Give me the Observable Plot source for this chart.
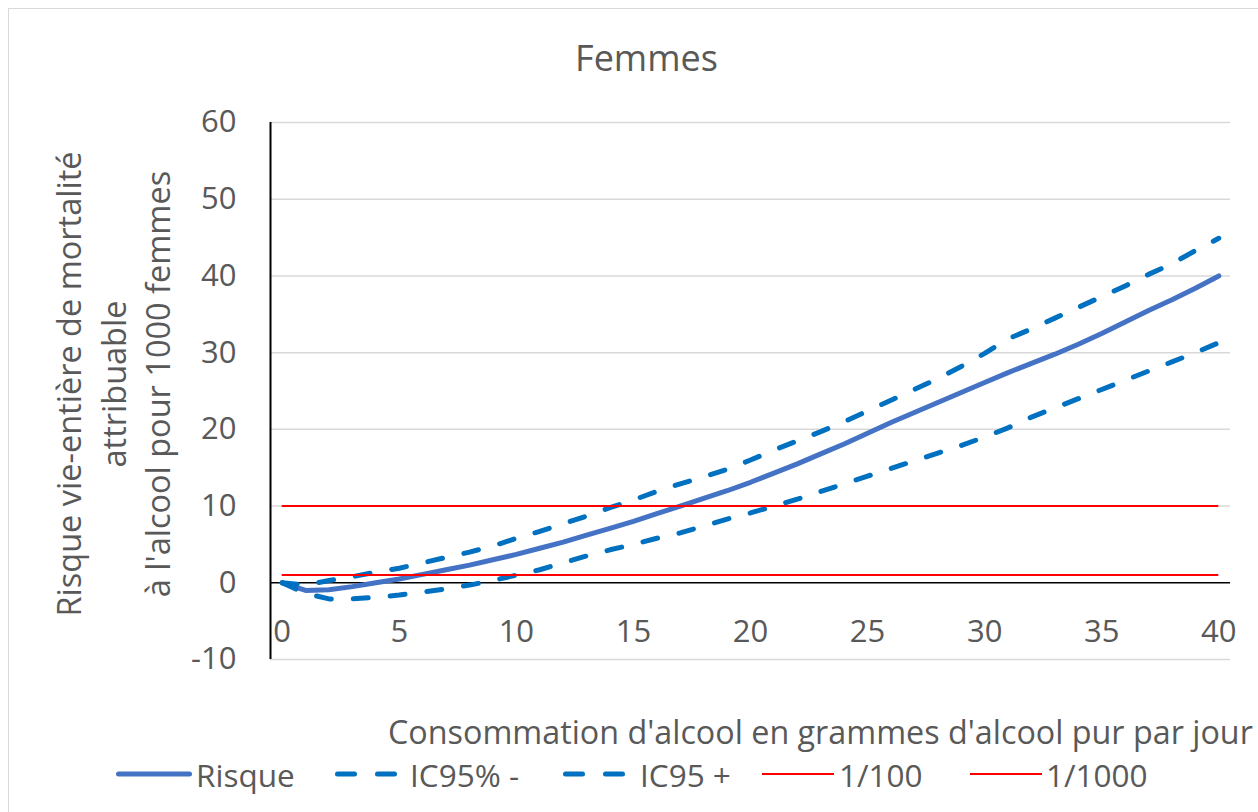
<!DOCTYPE html>
<html><head><meta charset="utf-8">
<script src="https://cdn.jsdelivr.net/npm/d3@7"></script>
<script src="https://cdn.jsdelivr.net/npm/@observablehq/plot@0.6"></script>
<style>
body{margin:0;background:#fff;font-family:"Open Sans",sans-serif;color:#595959;}
#chart{position:relative;width:1258px;height:812px;overflow:hidden;background:#fff;}
#frame{position:absolute;left:8px;top:8px;width:1300px;height:900px;border:1px solid #D9D9D9;}
#title{position:absolute;left:0;width:1293px;top:36px;text-align:center;font-size:36px;line-height:44px;}
#plot{position:absolute;left:0;top:100px;}
#xtitle{position:absolute;left:388px;top:714px;font-size:32.3px;line-height:34px;white-space:nowrap;}
.legsw{position:absolute;top:768px;}
.legtx{position:absolute;top:758px;font-size:31.5px;line-height:34px;white-space:nowrap;}
</style>
</head><body>
<div id="chart">
<div id="frame"></div>
<div id="title">Femmes</div>
<div id="plot"></div>
<div id="xtitle">Consommation d'alcool en grammes d'alcool pur par jour</div>
<div id="legend"></div>
</div>
<script>
const xs = [0,1,2,3,4,5,6,7,8,9,10,11,12,13,14,15,16,17,18,19,20,21,22,23,24,25,26,27,28,29,30,31,32,33,34,35,36,37,38,39,40];
const risque = [0,-1.0,-0.9,-0.5,0, 0.5,1.1,1.7,2.3,3.0, 3.7,4.5,5.3,6.2,7.1, 8.0,9.0,10.0,11.0,12.0, 13.1,14.3,15.5,16.8,18.1, 19.5,20.9,22.2,23.5,24.8, 26.1,27.4,28.6,29.8,31.1, 32.5,34.0,35.5,36.9,38.4, 40.0];
const icMoins = [0,-1.4,-2.1,-2.1,-1.9, -1.6,-1.2,-0.8,-0.3,0.3, 1.0,1.7,2.6,3.5,4.3, 5.0,5.8,6.5,7.4,8.3, 9.1,10.0,10.9,11.9,12.9, 13.9,14.9,15.9,16.9,17.9, 19.0,20.2,21.6,22.8,24.0, 25.2,26.4,27.6,28.8,30.0, 31.3];
const icPlus = [0,-0.3,0.3,0.8,1.4, 1.9,2.6,3.3,4.0,4.8, 5.8,6.7,7.7,8.7,9.8, 10.8,11.9,12.9,13.8,14.8, 16.0,17.3,18.5,19.7,21.0, 22.4,23.8,25.2,26.6,28.2, 29.9,31.8,33.1,34.5,35.9, 37.3,38.7,40.2,41.6,43.3, 44.9];
const seuilNames = ["1/100","1/1000"];
const seuilValues = [10,1];
const seriesNames = ["Risque","IC95% -","IC95 +"];
const yTicks = [-10,0,10,20,30,40,50,60];
const xTicks = [0,5,10,15,20,25,30,35,40];
const yTitle = "Risque vie-entière de mortalité\nattribuable\nà l'alcool pour 1000 femmes";

const styles = {
  "Risque": {stroke:"#4472C4", strokeWidth:5, dash:null},
  "IC95% -": {stroke:"#0070C0", strokeWidth:5, dash:"15,22"},
  "IC95 +": {stroke:"#0070C0", strokeWidth:5, dash:"15,22"},
  "1/100": {stroke:"#FF0000", strokeWidth:2, dash:null},
  "1/1000": {stroke:"#FF0000", strokeWidth:2, dash:null}
};

const seriesData = [risque, icMoins, icPlus];
const rows = seriesNames.map((name,k)=>xs.map((x,i)=>({x, y:seriesData[k][i], name})));
const seuils = seuilValues.map((v,i)=>({y:v, name:seuilNames[i]}));

const font = "'Open Sans', sans-serif";
const plot = Plot.plot({
  width:1258, height:600,
  marginLeft:270, marginRight:28, marginTop:22, marginBottom:41,
  x:{domain:[-0.5,40.5], axis:null},
  y:{domain:[-10,60], axis:null},
  style:{fontFamily:font, color:"#595959", background:"transparent", overflow:"visible"},
  marks:[
    Plot.ruleY(yTicks.filter(d=>d!==0), {stroke:"#D9D9D9", strokeWidth:1.5}),
    Plot.ruleY([0], {stroke:"#000", strokeWidth:1.5}),
    Plot.ruleX([-0.5], {y1:-10, y2:60, stroke:"#000", strokeWidth:2}),
    Plot.text(yTicks, {y:d=>d, frameAnchor:"left", dx:-34, textAnchor:"end", fontSize:31, fill:"#595959"}),
    Plot.text(xTicks, {x:d=>d, y:()=>0, dy:49, fontSize:31, fill:"#595959"}),
    Plot.text([yTitle], {frameAnchor:"left", dx:-159, dy:-7, rotate:-90, textAnchor:"middle", lineAnchor:"middle", fontSize:32.5, lineHeight:1.36, fill:"#595959"}),
    ...rows.map(r=>{
      const s = styles[r[0].name];
      return Plot.line(r, {x:"x", y:"y", stroke:s.stroke, strokeWidth:s.strokeWidth, strokeDasharray:s.dash || undefined, strokeLinecap:"round", strokeLinejoin:"round"});
    }),
    Plot.ruleY(seuils, {y:"y", x1:0, x2:40, stroke:"#FF0000", strokeWidth:2})
  ]
});
document.getElementById("plot").appendChild(plot);

// legend (layout positions)
const legNames = [...seriesNames, ...seuilNames];
const swLeft = [116, 332, 560, 762, 970];
const swWidth = [76, 68, 68, 72, 72];
const txLeft = [196, 410, 640, 839, 1046];
const legend = document.getElementById("legend");
const ns = "http://www.w3.org/2000/svg";
legNames.forEach((name,i)=>{
  const s = styles[name];
  const svg = document.createElementNS(ns,"svg");
  svg.setAttribute("class","legsw");
  svg.style.left = swLeft[i] + "px";
  svg.setAttribute("width",swWidth[i]); svg.setAttribute("height",12);
  const ln = document.createElementNS(ns,"line");
  const round = s.strokeWidth > 3;
  ln.setAttribute("x1", round ? 2.5 : 0); ln.setAttribute("x2", swWidth[i] - (round ? 2.5 : 0));
  ln.setAttribute("y1",6); ln.setAttribute("y2",6);
  ln.setAttribute("stroke", s.stroke); ln.setAttribute("stroke-width", s.strokeWidth);
  ln.setAttribute("stroke-linecap", round ? "round" : "butt");
  if (s.dash) { ln.setAttribute("x1", 5.5); ln.setAttribute("stroke-dasharray", "17,23"); }
  svg.appendChild(ln);
  legend.appendChild(svg);
  const sp = document.createElement("div");
  sp.className = "legtx";
  sp.style.left = txLeft[i] + "px";
  sp.textContent = name;
  legend.appendChild(sp);
});
</script>
</body></html>
